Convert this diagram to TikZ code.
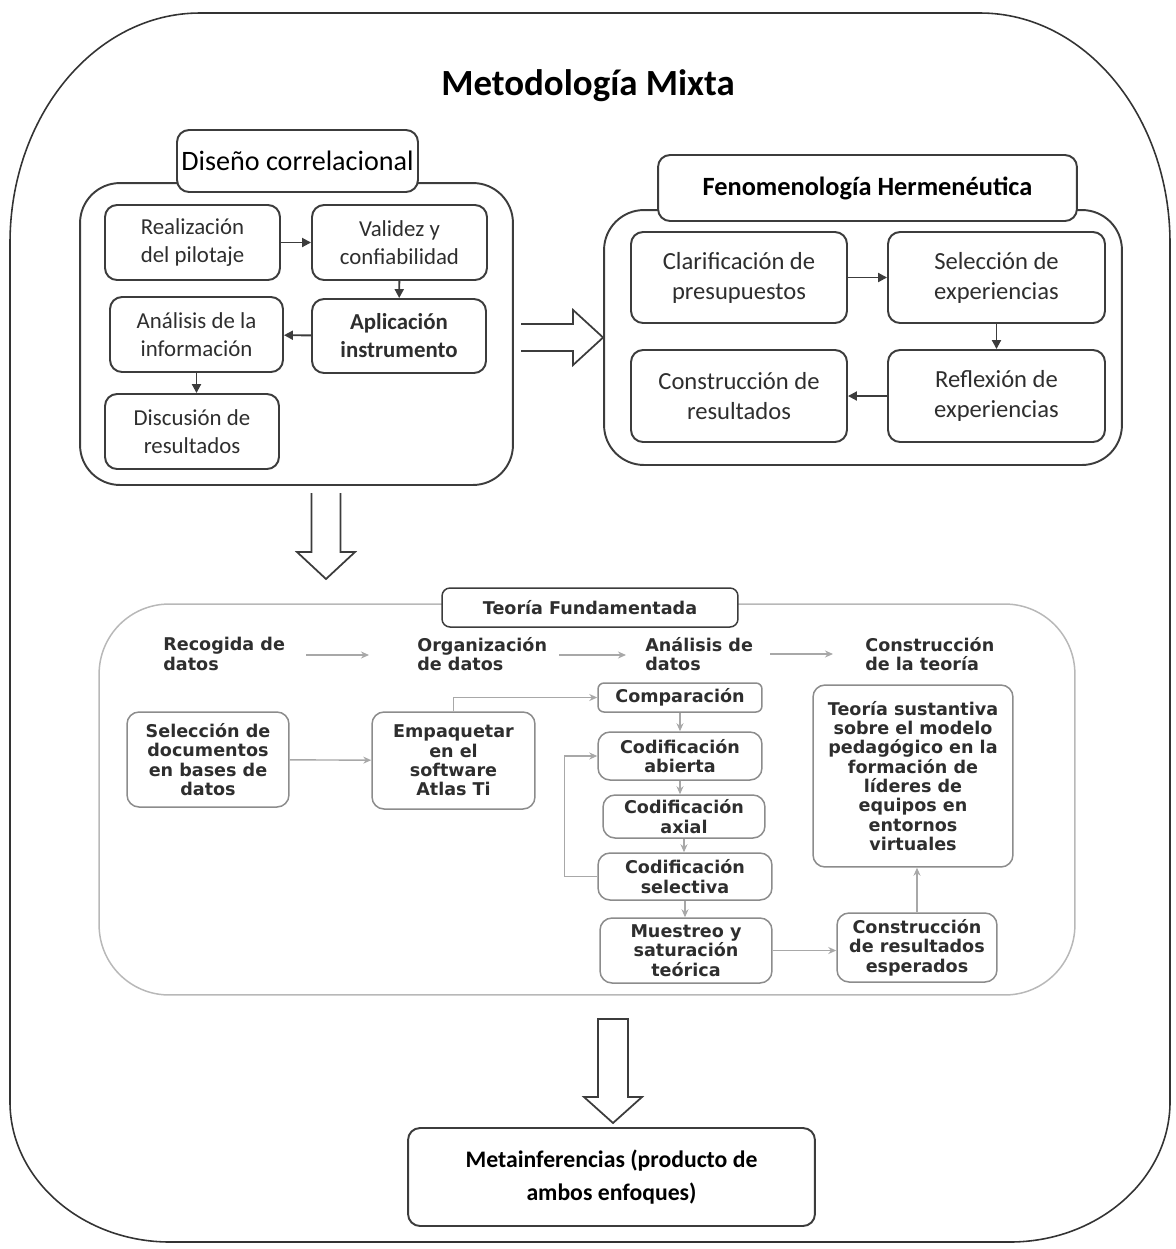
\documentclass[tikz,border=0pt]{standalone}
\usepackage{fontspec}
\setmainfont{Carlito}
\newfontfamily\verdfont{DejaVu Sans}
\usetikzlibrary{arrows.meta}

\definecolor{linegray}{HTML}{3C3C3C}
\definecolor{textgray}{HTML}{2E2E2E}
\definecolor{palegray}{HTML}{A8A8A8}

\begin{document}
\begin{tikzpicture}[x=0.02cm,y=-0.02cm,
	topbox/.style={draw=linegray, line width=1.1pt, rounded corners=0.24cm, fill=white, align=center, text=textgray, font=\fontsize{13}{16}\selectfont, inner sep=0pt},
	groupbox/.style={draw=linegray, line width=1.1pt, rounded corners=0.8cm, inner sep=0pt},
	tfbox/.style={draw=black!45, line width=0.85pt, rounded corners=0.24cm, fill=white, align=center, text=textgray, font=\verdfont\bfseries\fontsize{10}{11}\selectfont, inner sep=0pt},
	hdr/.style={anchor=west, align=left, text=textgray, font=\verdfont\bfseries\fontsize{10}{11}\selectfont, inner sep=0pt},
	darrow/.style={draw=linegray, line width=1.1pt, -{Triangle[length=1.8mm,width=1.8mm]}},
	garrow/.style={draw=palegray, line width=0.8pt, -{Stealth[length=1.6mm,width=1.4mm]}},
	hollow/.style={draw=linegray, line width=1pt, line join=miter}]

	\useasboundingbox (0,0) rectangle (1176,1249);

	\draw[line width=0.9pt, draw=black!80] (200,13) -- (980,13) .. controls (1085,13) and (1170,116) .. (1170,243) -- (1170,1102) .. controls (1170,1179) and (1098,1242) .. (1010,1242) -- (170,1242) .. controls (82,1242) and (10,1179) .. (10,1102) -- (10,243) .. controls (10,116) and (95,13) .. (200,13) -- cycle;
	\node[font=\bfseries\fontsize{21}{25}\selectfont] (title) at (588,86) {Metodología Mixta};

	\node[groupbox, minimum width=8.66cm, minimum height=6.04cm] (dc) at (296.5,334) {};
	\node[topbox, minimum width=4.82cm, minimum height=1.24cm, font=\fontsize{16}{19}\selectfont, text=black] (dctitle) at (297.5,161) {Diseño correlacional};
	\node[topbox, minimum width=3.5cm, minimum height=1.5cm] (real) at (192.5,242.5) {Realización\\del pilotaje};
	\node[topbox, minimum width=3.5cm, minimum height=1.5cm] (val) at (399.5,242.5) {Validez y\\confiabilidad};
	\node[topbox, minimum width=3.46cm, minimum height=1.5cm] (anal) at (196.5,334.5) {Análisis de la\\información};
	\node[topbox, minimum width=3.48cm, minimum height=1.48cm, font=\bfseries\fontsize{13}{16}\selectfont] (apl) at (399,336) {Aplicación\\instrumento};
	\node[topbox, minimum width=3.48cm, minimum height=1.5cm] (disc) at (192,431.5) {Discusión de\\resultados};
	\draw[darrow] (real) -- (val);
	\draw[darrow] (val) -- (apl);
	\draw[darrow] (apl) -- (anal);
	\draw[darrow] (anal.south) -- (anal.south |- disc.north);

	\node[groupbox, minimum width=10.36cm, minimum height=5.1cm] (fh) at (863,337.5) {};
	\node[topbox, minimum width=8.38cm, minimum height=1.32cm, font=\bfseries\fontsize{15}{18}\selectfont, text=black] (fhtitle) at (867.5,188) {Fenomenología Hermenéutica};
	\node[topbox, minimum width=4.32cm, minimum height=1.82cm, font=\fontsize{14}{17}\selectfont] (clar) at (739,277.5) {Clarificación de\\presupuestos};
	\node[topbox, minimum width=4.34cm, minimum height=1.82cm, font=\fontsize{14}{17}\selectfont] (sel) at (996.5,277.5) {Selección de\\experiencias};
	\node[topbox, minimum width=4.32cm, minimum height=1.84cm, font=\fontsize{14}{17}\selectfont] (cons) at (739,396) {Construcción de\\resultados};
	\node[topbox, minimum width=4.34cm, minimum height=1.84cm, font=\fontsize{14}{17}\selectfont] (refl) at (996.5,396) {Reflexión de\\experiencias};
	\draw[darrow] (clar) -- (sel);
	\draw[darrow] (sel) -- (refl);
	\draw[darrow] (refl) -- (cons);

	\draw[hollow] ([shift={(-82,-13.5)}]fh.west) -- ++(52,0) -- ++(0,-14) -- (fh.west) -- ++(-30,27.5) -- ++(0,-14) -- ++(-52,0);
	\coordinate (dtip) at (326,579);
	\draw[hollow] ([shift={(-14.5,-86)}]dtip) -- ++(0,59) -- ++(-14.5,0) -- (dtip) -- ++(29,-27) -- ++(-14.5,0) -- ++(0,-59);

	\node[tfbox, draw=black!28, rounded corners=1.4cm, fill=none, minimum width=19.52cm, minimum height=7.82cm] (tf) at (587,799.5) {};
	\node[tfbox, draw=linegray, rounded corners=0.16cm, minimum width=5.92cm, minimum height=0.78cm] (tftitle) at (590,607.5) {Teoría Fundamentada};
	\node[hdr] (hrec) at (163,654) {Recogida de\\datos};
	\node[hdr] (horg) at (417,654) {Organización\\de datos};
	\node[hdr] (hana) at (645,654) {Análisis de\\datos};
	\node[hdr] (hcon) at (865,654) {Construcción\\de la teoría};
	\draw[garrow] ([shift={(21,1)}]hrec.east) -- ([shift={(-48,1)}]horg.west);
	\draw[garrow] ([shift={(12,1)}]horg.east) -- ([shift={(-19,1)}]hana.west);
	\draw[garrow] ([shift={(17,0)}]hana.east) -- ([shift={(-32,0)}]hcon.west);

	\node[tfbox, minimum width=3.24cm, minimum height=1.9cm] (selb) at (208,759.5) {Selección de\\documentos\\en bases de\\datos};
	\node[tfbox, minimum width=3.26cm, minimum height=1.94cm] (emp) at (453.5,760.5) {Empaquetar\\en el\\software\\Atlas Ti};
	\node[tfbox, minimum width=3.28cm, minimum height=0.58cm, rounded corners=0.12cm] (comp) at (680,697.5) {Comparación};
	\node[tfbox, minimum width=3.28cm, minimum height=0.96cm] (cab) at (680,756) {Codificación\\abierta};
	\node[tfbox, minimum width=3.24cm, minimum height=0.86cm] (cax) at (684,816.5) {Codificación\\axial};
	\node[tfbox, minimum width=3.48cm, minimum height=0.94cm] (csel) at (685,876.5) {Codificación\\selectiva};
	\node[tfbox, minimum width=3.44cm, minimum height=1.3cm] (mues) at (686,950.5) {Muestreo y\\saturación\\teórica};
	\node[tfbox, minimum width=3.2cm, minimum height=1.38cm] (cres) at (917,947.5) {Construcción\\de resultados\\esperados};
	\node[tfbox, minimum width=4cm, minimum height=3.64cm] (teo) at (913,776) {Teoría sustantiva\\sobre el modelo\\pedagógico en la\\formación de\\líderes de\\equipos en\\entornos\\virtuales};
	\draw[garrow] (selb) -- (emp);
	\draw[garrow] (emp.north) |- (comp.west);
	\draw[garrow] (comp.south) -- (comp.south |- cab.north);
	\draw[garrow] (cab.south) -- (cab.south |- cax.north);
	\draw[garrow] (cax.south) -- (cax.south |- csel.north);
	\draw[garrow] (csel.south) -- (csel.south |- mues.north);
	\draw[garrow] (csel.west) -- ++(-33,0) |- (cab.west);
	\draw[garrow] (mues.east) -- (mues.east -| cres.west);
	\draw[garrow] (cres.north) -- (cres.north |- teo.south);

	\coordinate (mtip) at (613,1123);
	\draw[hollow] (mtip) -- ++(-29,-26) -- ++(14,0) -- ++(0,-78) -- ++(30,0) -- ++(0,78) -- ++(14,0) -- cycle;
	\node[topbox, minimum width=8.14cm, minimum height=1.96cm, font=\bfseries\fontsize{13.5}{19}\selectfont, text=black] (meta) at (611.5,1177) {Metainferencias (producto de\\ambos enfoques)};
\end{tikzpicture}
\end{document}
